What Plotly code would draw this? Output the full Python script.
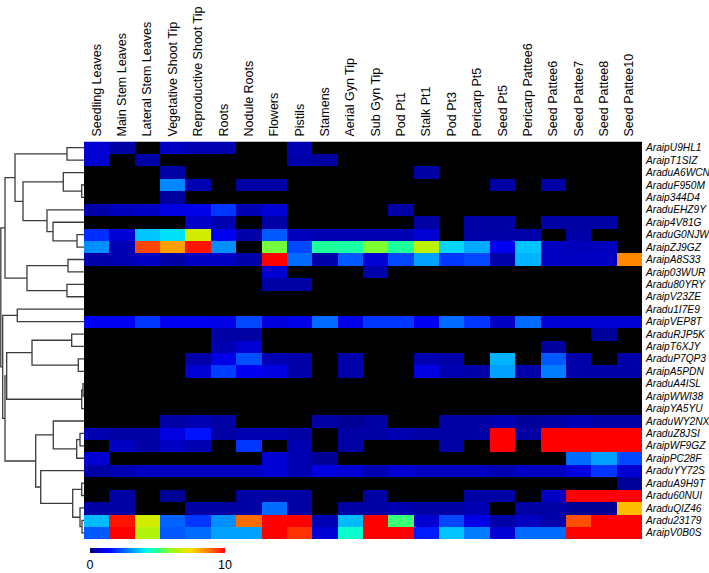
import plotly.graph_objects as go

# ---------------- data ----------------
tissues = ["Seedling Leaves", "Main Stem Leaves", "Lateral Stem Leaves", "Vegetative Shoot Tip",
           "Reproductive Shoot Tip", "Roots", "Nodule Roots", "Flowers", "Pistils", "Stamens",
           "Aerial Gyn Tip", "Sub Gyn Tip", "Pod Pt1", "Stalk Pt1", "Pod Pt3", "Pericarp Pt5",
           "Seed Pt5", "Pericarp Pattee6", "Seed Pattee6", "Seed Pattee7", "Seed Pattee8",
           "Seed Pattee10"]

genes = ["AraipU9HL1", "AraipT1SIZ", "AraduA6WCN", "AraduF950M", "Araip344D4", "AraduEHZ9Y",
         "Araip4V81G", "AraduG0NJW", "AraipZJ9GZ", "AraipA8S33", "Araip03WUR", "Aradu80YRY",
         "AraipV23ZE", "Aradu1I7E9", "AraipVEP8T", "AraduRJP5K", "AraipT6XJY", "AraduP7QP3",
         "AraipA5PDN", "AraduA4ISL", "AraipWWI38", "AraipYA5YU", "AraduWY2NX", "AraduZ8JSI",
         "AraipWF9GZ", "AraipPC28F", "AraduYY72S", "AraduA9H9T", "Aradu60NUI", "AraduQIZ46",
         "Aradu23179", "AraipV0B0S"]

AraipU9HL1 = [0.8, 0.35, 0, 0.65, 0.5, 0.5, 0, 0, 0.5, 0, 0, 0, 0, 0, 0, 0, 0, 0, 0, 0, 0, 0]
AraipT1SIZ = [0.8, 0, 0.35, 0, 0, 0, 0, 0, 0.4, 0.3, 0, 0, 0, 0, 0, 0, 0, 0, 0, 0, 0, 0]
AraduA6WCN = [0, 0, 0, 0.35, 0, 0, 0, 0, 0, 0, 0, 0, 0, 0.35, 0, 0, 0, 0, 0, 0, 0, 0]
AraduF950M = [0, 0, 0, 2.9, 0.5, 0, 0.35, 0.35, 0, 0, 0, 0, 0, 0, 0, 0, 0.35, 0, 0.35, 0, 0, 0]
Araip344D4 = [0, 0, 0, 0.3, 0, 0, 0, 0, 0, 0, 0, 0, 0, 0, 0, 0, 0, 0, 0, 0, 0, 0]
AraduEHZ9Y = [0.35, 0.6, 0.65, 0.95, 1.0, 2.0, 0.5, 0.8, 0, 0, 0, 0, 0.35, 0, 0, 0, 0, 0, 0, 0, 0, 0]
Araip4V81G = [0, 0, 0, 0, 0.7, 0.5, 0, 0.35, 0, 0, 0, 0, 0, 0.35, 0, 0.35, 0.35, 0, 0.35, 0.35, 0.35, 0]
AraduG0NJW = [1.9, 0.8, 3.6, 3.9, 6.8, 1.1, 0.4, 2.4, 0.6, 0.5, 0.5, 0.5, 0.5, 0.8, 0, 0.4, 0.4, 0.4, 0, 0.4, 0, 0]
AraipZJ9GZ = [3.0, 0.5, 9.3, 8.3, 9.8, 3.0, 0, 5.7, 2.2, 4.9, 4.8, 5.8, 4.9, 6.5, 3.8, 3.3, 1.1, 3.6, 0.65, 0.6, 0.6, 0]
AraipA8S33 = [0.4, 0.5, 0.65, 0.4, 0.65, 0.65, 0.4, 10, 2.6, 0.4, 2.4, 0.8, 2.2, 3.2, 2.0, 2.2, 0.4, 3.4, 0.65, 0.65, 0.65, 8.6]
Araip03WUR = [0, 0, 0, 0, 0, 0, 0, 0.8, 0, 0, 0, 0.4, 0, 0, 0, 0, 0, 0, 0, 0, 0, 0]
Aradu80YRY = [0, 0, 0, 0, 0, 0, 0, 0.35, 0.35, 0, 0, 0, 0, 0, 0, 0, 0, 0, 0, 0, 0, 0]
AraipV23ZE = [0, 0, 0, 0, 0, 0, 0, 0, 0, 0, 0, 0, 0, 0, 0, 0, 0, 0, 0, 0, 0, 0]
Aradu1I7E9 = [0, 0, 0, 0, 0, 0, 0, 0, 0, 0, 0, 0, 0, 0, 0, 0, 0, 0, 0, 0, 0, 0]
AraipVEP8T = [1.1, 1.1, 2.0, 1.1, 1.1, 1.0, 2.2, 0.9, 1.0, 2.6, 1.0, 2.0, 2.0, 1.1, 2.6, 2.0, 0.65, 2.6, 0.8, 0.8, 0.8, 0.8]
AraduRJP5K = [0, 0, 0, 0, 0, 0.35, 0.35, 0, 0, 0, 0, 0, 0, 0, 0, 0, 0, 0, 0, 0, 0.25, 0]
AraipT6XJY = [0, 0, 0, 0, 0, 0.5, 0.8, 0, 0, 0, 0, 0, 0, 0, 0, 0, 0, 0, 0.3, 0, 0, 0]
AraduP7QP3 = [0, 0, 0, 0, 0.4, 1.0, 2.3, 0.5, 0.4, 0, 0.4, 0, 0, 0.5, 0.4, 0, 3.4, 0, 2.4, 0.4, 0, 0.4]
AraipA5PDN = [0, 0, 0, 0, 0.8, 2.1, 1.1, 0.95, 0.4, 0, 0.4, 0, 0, 0.95, 0.5, 0.4, 3.2, 0.4, 2.8, 0.4, 0.4, 0.4]
AraduA4ISL = [0, 0, 0, 0, 0, 0, 0, 0, 0, 0, 0, 0, 0, 0, 0, 0, 0, 0, 0, 0, 0, 0]
AraipWWI38 = [0, 0, 0, 0, 0, 0, 0, 0, 0, 0, 0, 0, 0, 0, 0, 0, 0, 0, 0, 0, 0, 0]
AraipYA5YU = [0, 0, 0, 0, 0, 0, 0, 0, 0, 0, 0, 0, 0, 0, 0, 0, 0, 0, 0, 0, 0, 0]
AraduWY2NX = [0, 0, 0, 0.35, 0.5, 0.35, 0, 0, 0, 0.35, 0.2, 0.35, 0, 0, 0.35, 0.35, 0.5, 0.25, 0.35, 0.5, 0.35, 0.35]
AraduZ8JSI = [0.5, 0.35, 0.35, 0.95, 1.6, 0.35, 0.5, 0.5, 0.35, 0, 0.35, 0.35, 0.5, 0.35, 0.35, 0.35, 10, 0.35, 10, 10, 10, 10]
AraipWF9GZ = [0, 0.65, 0.35, 0.65, 0.5, 0, 2.0, 0, 0.5, 0, 0.35, 0, 0, 0, 0.35, 0, 10, 0, 10, 10, 10, 10]
AraipPC28F = [0.8, 0, 0, 0, 0, 0, 0, 0.8, 0.5, 0.2, 0, 0, 0, 0, 0, 0, 0, 0, 0, 2.6, 3.2, 2.2]
AraduYY72S = [0.35, 0.5, 0.65, 0.65, 0.65, 0.65, 0.65, 0.8, 0.5, 0.95, 0.8, 0.5, 0.8, 0.65, 0.65, 0.65, 0.5, 0.65, 0.65, 0.95, 2.0, 0.8]
AraduA9H9T = [0, 0, 0, 0, 0, 0, 0, 0, 0, 0, 0, 0, 0, 0, 0, 0, 0, 0, 0, 0, 0, 0.25]
Aradu60NUI = [0, 0.35, 0, 0.2, 0, 0, 0.35, 0.35, 0.35, 0, 0, 0.35, 0, 0, 0, 0.35, 0.35, 0, 0.65, 10, 10, 10]
AraduQIZ46 = [0.35, 0.35, 0, 0, 0.35, 0.35, 0.35, 2.6, 0.35, 0, 0.35, 0.35, 0.5, 0.35, 0.35, 0.5, 0, 0.35, 0.35, 0.2, 0.2, 7.9]
Aradu23179 = [3.5, 9.8, 6.8, 2.5, 2.0, 3.0, 8.9, 10, 10, 0.5, 3.5, 10, 5.2, 0.8, 2.2, 1.0, 0.4, 0.65, 0.4, 9.2, 10, 10]
AraipV0B0S = [2.4, 10, 6.4, 2.4, 2.6, 3.2, 3.2, 10, 9.5, 0.8, 4.4, 10, 10, 1.7, 3.6, 2.8, 0.8, 2.6, 2.6, 10, 10, 10]

# dendrogram merges: (child_a, child_b, height); leaves are row indices 0..31,
# internal nodes are numbered 32, 33, ... in the order listed
merges = [
    (0, 1, 17), (3, 4, 2.3), (2, 33, 20.7), (7, 8, 7), (6, 35, 31), (5, 36, 37),
    (34, 37, 61), (32, 38, 69), (9, 10, 16), (11, 12, 17), (40, 41, 57), (39, 42, 79),
    (13, 14, 66.7), (15, 16, 12.3), (17, 18, 5.7), (45, 46, 52), (19, 20, 1), (48, 21, 2.3),
    (47, 49, 77.3), (23, 24, 4), (51, 25, 7.3), (22, 52, 30.7), (27, 28, 2.3), (30, 31, 2),
    (29, 55, 4), (54, 56, 11.3), (26, 57, 43.3), (53, 58, 48.3), (50, 59, 79), (44, 60, 81.3),
    (43, 61, 83.2),
]

# ---------------- build ----------------
z = [AraipU9HL1, AraipT1SIZ, AraduA6WCN, AraduF950M, Araip344D4, AraduEHZ9Y, Araip4V81G,
     AraduG0NJW, AraipZJ9GZ, AraipA8S33, Araip03WUR, Aradu80YRY, AraipV23ZE, Aradu1I7E9,
     AraipVEP8T, AraduRJP5K, AraipT6XJY, AraduP7QP3, AraipA5PDN, AraduA4ISL, AraipWWI38,
     AraipYA5YU, AraduWY2NX, AraduZ8JSI, AraipWF9GZ, AraipPC28F, AraduYY72S, AraduA9H9T,
     Aradu60NUI, AraduQIZ46, Aradu23179, AraipV0B0S]

n = len(genes)
pos = {i: (float(i), 0.0) for i in range(n)}
dx, dy = [], []
for k, (a, b, h) in enumerate(merges):
    ya, ha = pos[a]
    yb, hb = pos[b]
    dx += [ha, h, h, hb, None]
    dy += [ya, ya, yb, yb, None]
    pos[n + k] = ((ya + yb) / 2.0, h)

W, H = 709, 573
hm_left, hm_right = 84, 642
hm_top, hm_bottom = 141.5, 539

colorscale = [
    [0.0, "#000000"], [0.0001, "#000080"], [0.124, "#0000ff"], [0.14, "#0000ff"],
    [0.382, "#00d8ff"], [0.42, "#00ffe0"], [0.5, "#20ff90"], [0.58, "#80ff30"],
    [0.66, "#c4f000"], [0.745, "#ffe000"], [0.87, "#ff8000"], [1.0, "#ff0000"],
]

fig = go.Figure()
fig.add_trace(go.Heatmap(
    z=z, x=list(range(len(tissues))), y=list(range(n)),
    colorscale=colorscale, zmin=0, zmax=10,
    xaxis="x", yaxis="y",
    colorbar=dict(
        orientation="h", x=((90 + 225) / 2) / W, xanchor="center",
        y=(H - 548) / H, yanchor="top", len=135 / W, lenmode="fraction",
        thickness=4.5, outlinewidth=0, tickvals=[0, 10], ticktext=["0", "10"],
        ticks="", tickfont=dict(family="Liberation Sans, Arial", size=12.5, color="black"),
        xpad=0, ypad=0,
    ),
))
fig.add_trace(go.Scatter(
    x=dx, y=dy, mode="lines", xaxis="x2", yaxis="y",
    line=dict(color="#3c3c3c", width=1.3), showlegend=False, hoverinfo="skip",
))

fig.update_layout(
    width=W, height=H,
    margin=dict(l=0, r=0, t=0, b=0, autoexpand=False),
    paper_bgcolor="white", plot_bgcolor="white",
    showlegend=False,
    xaxis=dict(
        domain=[hm_left / W, hm_right / W], range=[-0.5, len(tissues) - 0.5],
        side="top", tickvals=list(range(len(tissues))), ticktext=tissues,
        tickangle=-90, ticks="", showgrid=False, zeroline=False, showline=False,
        tickfont=dict(family="Liberation Sans, Arial", size=12.5, color="black"),
        ticklabelstandoff=4, anchor="y", automargin=False,
    ),
    yaxis=dict(
        domain=[(H - hm_bottom) / H, (H - hm_top) / H], range=[n - 0.5, -0.5],
        side="right", tickvals=list(range(n)), ticktext=genes, ticks="",
        showgrid=False, zeroline=False, showline=False,
        tickfont=dict(family="Liberation Sans, Arial", size=10.2, color="black", style="italic"),
        ticklabelstandoff=3, anchor="x", automargin=False,
    ),
    xaxis2=dict(
        domain=[0, hm_left / W], range=[84, 0], visible=False, anchor="y",
        showgrid=False, zeroline=False,
    ),
)

fig.write_html(
    "out.html",
    config={"displayModeBar": False},
    post_script="document.body.style.margin='0';document.body.style.padding='0';"
                "document.body.style.overflow='hidden';",
)
